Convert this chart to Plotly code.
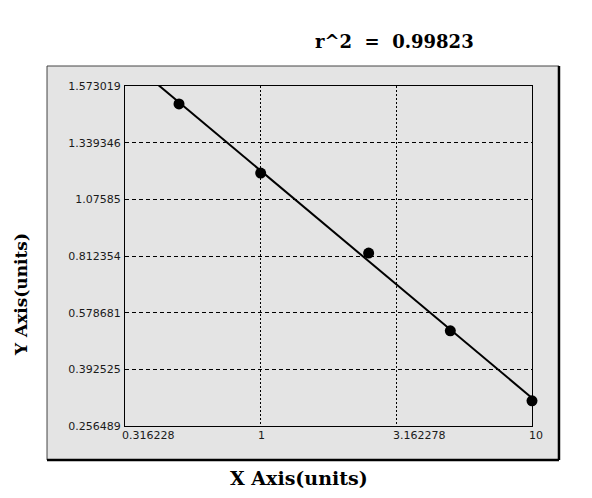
import numpy as np
import plotly.graph_objects as go

# ---- data ----
x_conc = [0.5, 1, 2.5, 5, 10]
y_od = [1.499, 1.198, 0.826, 0.519, 0.317]

x_tick_vals = [0.316228, 1, 3.162278, 10]
x_tick_text = ["0.316228", "1", "3.162278", "10"]
y_tick_vals = [1.573019, 1.339346, 1.07585, 0.812354, 0.578681, 0.392525, 0.256489]
y_tick_text = ["1.573019", "1.339346", "1.07585", "0.812354", "0.578681", "0.392525", "0.256489"]
r2_text = "r^2  =  0.99823"

# The y axis of the original is evenly spaced by tick label (a piecewise scale):
asc_vals = np.array(sorted(y_tick_vals))
asc_pos = np.arange(len(asc_vals), dtype=float)


def y_scale(v):
    return np.interp(np.asarray(v, dtype=float), asc_vals, asc_pos)


y_pos = y_scale(y_od)
tick_pos = y_scale(y_tick_vals)

# linear fit on log10(x)
lx = np.log10(x_conc)
slope, intercept = np.polyfit(lx, y_pos, 1)
fit_x = np.array([x_tick_vals[0], x_tick_vals[-1]])
fit_y = slope * np.log10(fit_x) + intercept

GRAY = "#e4e4e4"
TICKFONT = dict(family="DejaVu Sans", size=11, color="#1a1a1a")
SERIF = "DejaVu Serif"

fig = go.Figure()
fig.add_trace(go.Scatter(x=fit_x, y=fit_y, mode="lines",
                         line=dict(color="black", width=2), hoverinfo="skip"))
fig.add_trace(go.Scatter(x=x_conc, y=y_pos, mode="markers", cliponaxis=False,
                         marker=dict(color="black", size=11)))

annotations = []
for v, t in zip(x_tick_vals, x_tick_text):
    annotations.append(dict(x=np.log10(v), y=0, xref="x", yref="paper", text=t,
                            showarrow=False, xanchor="left", yanchor="top",
                            xshift=-5, yshift=-1, font=TICKFONT))
annotations += [
    dict(x=0.662, y=1.132, xref="paper", yref="paper", text="<b>" + r2_text.replace(" ", "&nbsp;") + "</b>",
         showarrow=False, xanchor="center", yanchor="middle",
         font=dict(family=SERIF, size=18, color="black")),
    dict(x=0.4275, y=-0.153, xref="paper", yref="paper", text="<b>X Axis(units)</b>",
         showarrow=False, xanchor="center", yanchor="middle",
         font=dict(family=SERIF, size=19, color="black")),
    dict(x=-0.2555, y=0.385, xref="paper", yref="paper", text="<b>Y Axis(units)</b>",
         showarrow=False, xanchor="center", yanchor="middle", textangle=-90,
         font=dict(family=SERIF, size=17, color="black")),
]

shapes = [
    dict(type="rect", xref="paper", yref="paper", x0=-0.1916, x1=1.0663, y0=-0.1, y1=1.0588,
         fillcolor=GRAY, line=dict(width=0), layer="below"),
    dict(type="line", xref="paper", yref="paper", x0=-0.1916, x1=1.0663, y0=1.0588, y1=1.0588,
         line=dict(color="#444444", width=1), layer="below"),
    dict(type="line", xref="paper", yref="paper", x0=-0.1916, x1=-0.1916, y0=-0.1, y1=1.0588,
         line=dict(color="#444444", width=1), layer="below"),
    dict(type="line", xref="paper", yref="paper", x0=1.0663, x1=1.0663, y0=-0.1, y1=1.0588,
         line=dict(color="black", width=2.5), layer="below"),
    dict(type="line", xref="paper", yref="paper", x0=-0.1916, x1=1.0663, y0=-0.1, y1=-0.1,
         line=dict(color="black", width=2.5), layer="below"),
]

# the page body has an 8px margin, so the figure is 8px smaller and margins shifted
fig.update_layout(
    width=584, height=490,
    margin=dict(l=117, r=60, t=78, b=72),
    paper_bgcolor="white", plot_bgcolor=GRAY,
    showlegend=False,
    annotations=annotations, shapes=shapes,
    xaxis=dict(type="log", range=[np.log10(x_tick_vals[0]), np.log10(x_tick_vals[-1])],
               tickvals=x_tick_vals, showticklabels=False, ticks="",
               showgrid=True, gridcolor="black", gridwidth=1, griddash="2px,2px",
               showline=True, linecolor="black", linewidth=1, mirror=True, zeroline=False),
    yaxis=dict(range=[tick_pos.min(), tick_pos.max()],
               tickvals=list(tick_pos), ticktext=y_tick_text, ticks="",
               tickfont=TICKFONT, ticklabelstandoff=1,
               showgrid=True, gridcolor="black", gridwidth=1, griddash="4px,3px",
               showline=True, linecolor="black", linewidth=1, mirror=True, zeroline=False),
)

fig.write_html("out.html")
